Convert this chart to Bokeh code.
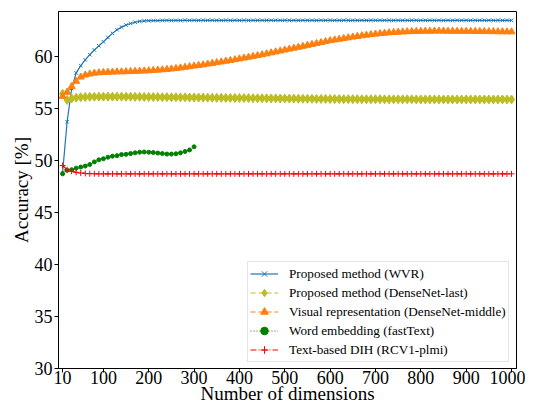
from bokeh.plotting import figure
from bokeh.models import Range1d, FixedTicker, Legend, LegendItem
from bokeh.embed import file_html
from bokeh.resources import INLINE

dims = list(range(10, 1001, 10))
dims_ft = list(range(10, 301, 10))

wvr = [48.8, 53.7, 56.9, 58.4, 59.1, 59.65, 60.15, 60.6, 61.0, 61.4,
       61.8, 62.2, 62.55, 62.8, 63.0, 63.15, 63.27, 63.35, 63.4, 63.42,
       63.43, 63.43, 63.44, 63.44, 63.44, 63.44, 63.44, 63.45, 63.45, 63.45,
       63.45, 63.45, 63.45, 63.45, 63.45, 63.45, 63.45, 63.45, 63.45, 63.45,
       63.45, 63.45, 63.45, 63.45, 63.45, 63.45, 63.45, 63.45, 63.45, 63.45,
       63.45, 63.45, 63.45, 63.45, 63.45, 63.45, 63.45, 63.45, 63.45, 63.45,
       63.45, 63.45, 63.45, 63.45, 63.45, 63.45, 63.45, 63.45, 63.45, 63.45,
       63.45, 63.45, 63.45, 63.45, 63.45, 63.45, 63.45, 63.45, 63.45, 63.45,
       63.45, 63.45, 63.45, 63.45, 63.45, 63.45, 63.45, 63.45, 63.45, 63.45,
       63.45, 63.45, 63.45, 63.45, 63.45, 63.45, 63.45, 63.45, 63.45, 63.45]

densenet_last = [56.4, 55.8, 55.95, 56.02, 56.06, 56.08, 56.1, 56.11, 56.12, 56.12,
                 56.12, 56.12, 56.12, 56.12, 56.11, 56.11, 56.1, 56.1, 56.09, 56.09,
                 56.08, 56.08, 56.07, 56.07, 56.06, 56.06, 56.05, 56.05, 56.04, 56.04,
                 56.03, 56.03, 56.02, 56.02, 56.01, 56.01, 56.0, 56.0, 55.99, 55.99,
                 55.98, 55.98, 55.97, 55.97, 55.96, 55.96, 55.95, 55.95, 55.94, 55.94,
                 55.93, 55.93, 55.92, 55.92, 55.91, 55.91, 55.9, 55.9, 55.9, 55.89,
                 55.89, 55.89, 55.88, 55.88, 55.88, 55.88, 55.87, 55.87, 55.87, 55.87,
                 55.87, 55.86, 55.86, 55.86, 55.86, 55.86, 55.86, 55.86, 55.85, 55.85,
                 55.85, 55.85, 55.85, 55.85, 55.85, 55.85, 55.85, 55.85, 55.85, 55.85,
                 55.85, 55.85, 55.85, 55.85, 55.85, 55.85, 55.85, 55.85, 55.85, 55.85]

densenet_middle = [56.15, 56.55, 57.1, 57.6, 58.0, 58.2, 58.3, 58.38, 58.42, 58.45,
                   58.47, 58.48, 58.5, 58.51, 58.52, 58.54, 58.55, 58.57, 58.59, 58.61,
                   58.64, 58.67, 58.7, 58.74, 58.78, 58.83, 58.88, 58.94, 59.0, 59.06,
                   59.12, 59.18, 59.25, 59.32, 59.39, 59.46, 59.53, 59.6, 59.67, 59.75,
                   59.83, 59.91, 59.99, 60.07, 60.15, 60.24, 60.33, 60.42, 60.51, 60.6,
                   60.69, 60.78, 60.87, 60.96, 61.05, 61.14, 61.23, 61.32, 61.41, 61.5,
                   61.57, 61.64, 61.71, 61.78, 61.85, 61.91, 61.97, 62.03, 62.08, 62.13,
                   62.18, 62.22, 62.26, 62.29, 62.32, 62.34, 62.36, 62.38, 62.39, 62.4,
                   62.41, 62.41, 62.42, 62.42, 62.42, 62.41, 62.41, 62.4, 62.4, 62.4,
                   62.39, 62.39, 62.38, 62.38, 62.37, 62.37, 62.36, 62.36, 62.35, 62.35]

fasttext = [48.7, 49.05, 49.1, 49.25, 49.35, 49.45, 49.6, 49.85, 50.05, 50.15,
            50.3, 50.4, 50.45, 50.55, 50.58, 50.65, 50.72, 50.78, 50.8, 50.78,
            50.75, 50.7, 50.65, 50.6, 50.6, 50.63, 50.72, 50.85, 51.0, 51.3]

rcv1 = [49.5, 49.1, 48.95, 48.85, 48.78, 48.74, 48.72, 48.71, 48.7, 48.7,
        48.7, 48.7, 48.7, 48.7, 48.7, 48.7, 48.7, 48.7, 48.7, 48.7,
        48.7, 48.7, 48.7, 48.7, 48.7, 48.7, 48.7, 48.7, 48.7, 48.7,
        48.7, 48.7, 48.7, 48.7, 48.7, 48.7, 48.7, 48.7, 48.7, 48.7,
        48.7, 48.7, 48.7, 48.7, 48.7, 48.7, 48.7, 48.7, 48.7, 48.7,
        48.7, 48.7, 48.7, 48.7, 48.7, 48.7, 48.7, 48.7, 48.7, 48.7,
        48.7, 48.7, 48.7, 48.7, 48.7, 48.7, 48.7, 48.7, 48.7, 48.7,
        48.7, 48.7, 48.7, 48.7, 48.7, 48.7, 48.7, 48.7, 48.7, 48.7,
        48.7, 48.7, 48.7, 48.7, 48.7, 48.7, 48.7, 48.7, 48.7, 48.7,
        48.7, 48.7, 48.7, 48.7, 48.7, 48.7, 48.7, 48.7, 48.7, 48.7]

x_ticks = [10, 100, 200, 300, 400, 500, 600, 700, 800, 900, 1000]
y_ticks = [30, 35, 40, 45, 50, 55, 60]

labels = ["Proposed method (WVR)",
          "Proposed method (DenseNet-last)",
          "Visual representation (DenseNet-middle)",
          "Word embedding (fastText)",
          "Text-based DIH (RCV1-plmi)"]

FONT = "Liberation Serif"

p = figure(width=525, height=406, output_backend="svg", toolbar_location=None,
           x_range=Range1d(1, 1011), y_range=Range1d(30, 64.3),
           min_border_left=58, min_border_right=9, min_border_top=11,
           min_border_bottom=32)

p.xgrid.visible = False
p.ygrid.visible = False
p.outline_line_color = "black"
p.outline_line_width = 1
p.background_fill_color = "white"
p.border_fill_color = "white"

for ax in (p.xaxis[0], p.yaxis[0]):
    ax.axis_line_color = "black"
    ax.major_tick_line_color = "black"
    ax.minor_tick_line_color = None
    ax.major_tick_in = 0
    ax.major_tick_out = 4
    ax.major_label_text_font = FONT
    ax.major_label_text_font_size = "18px"
    ax.major_label_text_color = "black"
    ax.axis_label_text_font = FONT
    ax.axis_label_text_font_size = "19px"
    ax.axis_label_text_font_style = "normal"
    ax.axis_label_text_color = "black"

p.xaxis.ticker = FixedTicker(ticks=x_ticks)
p.yaxis.ticker = FixedTicker(ticks=y_ticks)
p.xaxis.axis_label = "Number of dimensions"
p.yaxis.axis_label = "Accuracy [%]"
p.xaxis.major_label_standoff = -2
p.yaxis.major_label_standoff = 2
p.xaxis.axis_label_standoff = -4
p.yaxis.axis_label_standoff = 0

items = []

l1 = p.line(dims, wvr, line_color="#1f77b4", line_width=1.2)
s1 = p.scatter(dims, wvr, marker="x", size=5, line_color="#1f77b4", line_width=1)
items.append(LegendItem(label=labels[0], renderers=[l1, s1]))

l2 = p.line(dims, densenet_last, line_color="#bcbd22", line_width=1.2, line_dash="5 3")
s2 = p.scatter(dims, densenet_last, marker="diamond", size=9, fill_color="#bcbd22",
               line_color="#bcbd22")
items.append(LegendItem(label=labels[1], renderers=[l2, s2]))

l3 = p.line(dims, densenet_middle, line_color="#ff7f0e", line_width=1.2, line_dash="5 3")
s3 = p.scatter(dims, densenet_middle, marker="triangle", size=7, fill_color="#ff7f0e",
               line_color="#ff7f0e")
items.append(LegendItem(label=labels[2], renderers=[l3, s3]))

l4 = p.line(dims_ft, fasttext, line_color="green", line_width=1.2, line_dash="1 2")
s4 = p.scatter(dims_ft, fasttext, marker="circle", size=4, fill_color="green",
               line_color="green")
items.append(LegendItem(label=labels[3], renderers=[l4, s4]))

l5 = p.line(dims, rcv1, line_color="red", line_width=1.2, line_dash="6 2 1 2")
s5 = p.scatter(dims, rcv1, marker="cross", size=6, line_color="red", line_width=1)
items.append(LegendItem(label=labels[4], renderers=[l5, s5]))

legend = Legend(items=items, location=(189, 6))
legend.label_text_font = FONT
legend.label_text_font_size = "13.2px"
legend.label_text_color = "black"
legend.glyph_width = 28
legend.glyph_height = 19
legend.label_height = 19
legend.spacing = 0
legend.padding = 2
legend.margin = 0
legend.label_standoff = 11
legend.border_line_color = "#cccccc"
legend.border_line_width = 1
legend.background_fill_color = "white"
legend.background_fill_alpha = 0.8
p.add_layout(legend, "center")

open("out.html", "w").write(file_html(p, INLINE))
